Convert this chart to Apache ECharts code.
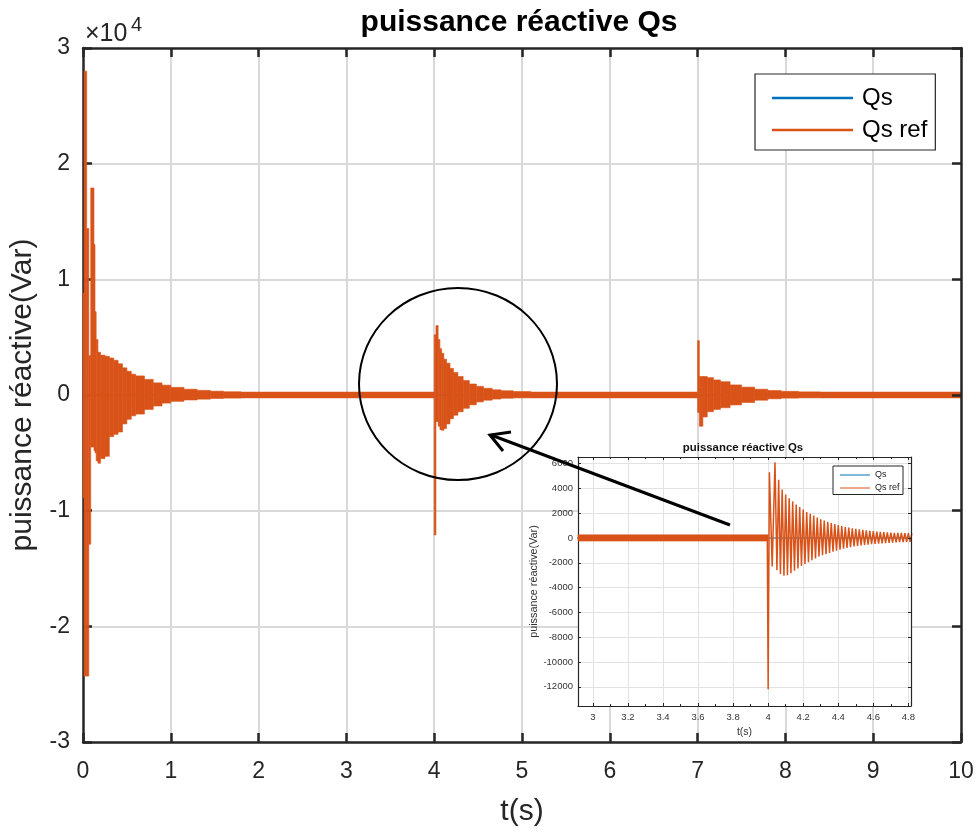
<!DOCTYPE html>
<html>
<head>
<meta charset="utf-8">
<script src="https://cdn.jsdelivr.net/npm/echarts@6/dist/echarts.min.js"></script>
<style>
html, body { margin: 0; padding: 0; background: #fff; }
#main { width: 980px; height: 832px; }
</style>
</head>
<body>
<div id="main"></div>
<script>
var FONT = '"Liberation Sans", Arial, Helvetica, sans-serif';
var BLUE = '#0072BD', ORANGE = '#D95319', INK = '#262626';

// Qs ref envelope (Var): segment i runs from segStart[i] to segStart[i+1]
var segStart = [0, 0.012, 0.042, 0.066, 0.088, 0.125, 0.137, 0.15, 0.17, 0.2, 0.25, 0.3, 0.35, 0.4, 0.45,
    0.5, 0.55, 0.6, 0.7, 0.8, 0.9, 1.0, 1.15, 1.3, 1.45, 1.6, 1.8,
    4.0, 4.02, 4.045, 4.065, 4.085, 4.11, 4.14, 4.18, 4.22, 4.27, 4.33, 4.4, 4.48, 4.56, 4.66, 4.76, 4.9, 5.1,
    7.0, 7.02, 7.06, 7.11, 7.18, 7.26, 7.37, 7.5, 7.65, 7.8, 7.95, 8.15, 8.4, 10];
var segHi = [8800, 28000, 14400, 3400, 17900, 13000, 7200, 4800, 3700, 3450, 3350, 3200, 3000, 2700, 2350,
    2050, 1800, 1650, 1350, 1050, 850, 660, 500, 400, 330, 280, 250,
    5200, 6000, 4800, 4000, 3600, 3100, 2750, 2300, 1950, 1600, 1250, 950, 750, 580, 450, 370, 300, 250,
    4700, 1600, 1600, 1500, 1300, 1150, 870, 680, 500, 390, 320, 270, 250, 250];
var segLo = [-8900, -24300, -24300, -12900, -4500, -4800, -5000, -5700, -5900, -5500, -5300, -3600, -3400, -3200, -2500,
    -2100, -1800, -1650, -1250, -950, -700, -550, -430, -360, -300, -270, -250,
    -12100, -2300, -2700, -3000, -3050, -2900, -2500, -2050, -1750, -1450, -1150, -850, -600, -450, -350, -280, -250, -250,
    -1500, -2700, -1900, -1450, -1250, -1100, -860, -650, -450, -330, -270, -250, -250, -250];

// Qs (flat at zero)
var qsT = [0, 10];
var qsV = [0, 0];

// inset: Qs ref oscillation peaks after the step at 4 s
var zoomT = [3.995, 4.000, 4.007, 4.023, 4.039, 4.050, 4.060, 4.070, 4.080, 4.090, 4.100, 4.110, 4.120, 4.130,
    4.140, 4.150, 4.160, 4.170, 4.180, 4.190, 4.200, 4.210, 4.220, 4.230, 4.240, 4.250, 4.260, 4.270, 4.280,
    4.290, 4.300, 4.310, 4.320, 4.330, 4.340, 4.350, 4.360, 4.370, 4.380, 4.390, 4.400, 4.410, 4.420, 4.430,
    4.440, 4.450, 4.460, 4.470, 4.480, 4.490, 4.500, 4.510, 4.520, 4.530, 4.540, 4.550, 4.560, 4.570, 4.580,
    4.590, 4.600, 4.610, 4.620, 4.630, 4.640, 4.650, 4.660, 4.670, 4.680, 4.690, 4.700, 4.710, 4.720, 4.730,
    4.740, 4.750, 4.760, 4.770, 4.780, 4.790, 4.800, 4.810, 4.820];
var zoomV = [0, -12200, 5300, -2300, 6100, -2600, 4700, -2900, 3900, -3050, 3500, -3000, 3200, -2850,
    2950, -2650, 2700, -2450, 2500, -2250, 2300, -2100, 2100, -1950, 1950, -1800, 1800, -1650, 1650,
    -1500, 1500, -1400, 1400, -1300, 1300, -1200, 1200, -1100, 1120, -1020, 1040, -940, 960, -870,
    890, -800, 830, -740, 780, -690, 730, -640, 690, -600, 650, -560, 610, -530, 580,
    -500, 550, -470, 520, -450, 500, -430, 480, -410, 460, -390, 440, -370, 420, -350,
    410, -340, 400, -330, 390, -320, 380, -310, 370];

var insetMin = 2.915, insetMax = 4.815;

var band = [];
for (var i = 0; i < segStart.length - 1; i++) {
    band.push([segStart[i], segStart[i + 1], segLo[i], segHi[i]]);
}
var insetBand = band.filter(function (d) { return d[0] < 4.0 && d[1] > insetMin; });
var qsData = qsT.map(function (t, i) { return [t, qsV[i]]; });
var zoomData = zoomT.map(function (t, i) { return [t, zoomV[i]]; });

function renderBand(params, api) {
    var cs = params.coordSys;
    var a = api.coord([api.value(0), api.value(3)]);
    var b = api.coord([api.value(1), api.value(2)]);
    var x0 = Math.max(a[0], cs.x), x1 = Math.min(b[0], cs.x + cs.width);
    if (x1 <= x0) return;
    return {
        type: 'rect',
        shape: { x: x0, y: a[1], width: Math.max(x1 - x0, 1), height: b[1] - a[1] },
        style: { fill: ORANGE, stroke: ORANGE, lineWidth: 0.6 }
    };
}

function frame(w) {
    return { show: true, onZero: false, lineStyle: { color: INK, width: w } };
}
function mainX(pos, extra) {
    return Object.assign({
        type: 'value', gridIndex: 0, position: pos, min: 0, max: 10, interval: 1, z: 3,
        axisLine: frame(2.5),
        axisTick: { show: true, inside: true, length: 9, lineStyle: { color: INK, width: 2.5 } },
        axisLabel: { show: false },
        splitLine: { show: false }
    }, extra || {});
}
function mainY(pos, extra) {
    return Object.assign({
        type: 'value', gridIndex: 0, position: pos, min: -30000, max: 30000, interval: 10000, z: 3,
        axisLine: frame(2.5),
        axisTick: { show: true, inside: true, length: 9, lineStyle: { color: INK, width: 2.5 } },
        axisLabel: { show: false },
        splitLine: { show: false }
    }, extra || {});
}
function insetX(pos, extra) {
    return Object.assign({
        type: 'value', gridIndex: 1, position: pos, min: insetMin, max: insetMax, splitNumber: 10, z: 9,
        axisLine: frame(1.2),
        axisTick: { show: true, inside: true, length: 3, lineStyle: { color: INK, width: 1 } },
        minorTick: { show: true, splitNumber: 2, length: 2, lineStyle: { color: INK, width: 1 } },
        axisLabel: { show: false },
        splitLine: { show: false }
    }, extra || {});
}
function insetY(pos, extra) {
    return Object.assign({
        type: 'value', gridIndex: 1, position: pos, min: -13550, max: 6530, splitNumber: 10, z: 9,
        axisLine: frame(1.2),
        axisTick: { show: true, inside: true, length: 3, lineStyle: { color: INK, width: 1 } },
        axisLabel: { show: false },
        splitLine: { show: false }
    }, extra || {});
}
var mainGridLine = { show: true, showMinLine: false, showMaxLine: false, lineStyle: { color: '#d9d9d9', width: 2 } };
var insetGridLine = { show: true, showMinLine: false, showMaxLine: false, lineStyle: { color: '#e2e2e2', width: 1 } };

var chart = echarts.init(document.getElementById('main'));
chart.setOption({
    animation: false,
    backgroundColor: '#fff',
    textStyle: { fontFamily: FONT },
    grid: [
        { left: 83, top: 48, right: 19, bottom: 90, show: false },
        { left: 578, top: 457, width: 333, height: 249, show: true, backgroundColor: '#fff',
          borderWidth: 0, z: 5 }
    ],
    xAxis: [
        mainX('bottom', {
            z: 0,
            axisLabel: { show: true, fontSize: 23, color: INK, margin: 18, fontFamily: FONT },
            splitLine: mainGridLine,
            name: 't(s)', nameLocation: 'middle', nameGap: 55,
            nameTextStyle: { fontSize: 30, color: INK, fontFamily: FONT }
        }),
        mainX('top'),
        insetX('bottom', {
            z: 6,
            axisLabel: { show: true, fontSize: 9.5, color: '#333', margin: 6.5, fontFamily: FONT,
                         showMinLabel: false, showMaxLabel: false },
            splitLine: insetGridLine,
            name: 't(s)', nameLocation: 'middle', nameGap: 21,
            nameTextStyle: { fontSize: 10.5, color: '#333', fontFamily: FONT }
        }),
        insetX('top')
    ],
    yAxis: [
        mainY('left', {
            z: 0,
            axisLabel: { show: true, fontSize: 23, color: INK, margin: 13, fontFamily: FONT,
                         formatter: function (v) { return String(v / 10000); } },
            splitLine: mainGridLine,
            name: 'puissance réactive(Var)', nameLocation: 'middle', nameGap: 45,
            nameTextStyle: { fontSize: 30, color: INK, fontFamily: FONT }
        }),
        mainY('right'),
        insetY('left', {
            z: 6,
            axisLabel: { show: true, fontSize: 9.5, color: '#333', margin: 5, fontFamily: FONT,
                         showMinLabel: false, showMaxLabel: false,
                         formatter: function (v) { return String(v); } },
            splitLine: insetGridLine,
            name: 'puissance réactive(Var)', nameLocation: 'middle', nameGap: 37,
            nameTextStyle: { fontSize: 10.8, color: '#333', fontFamily: FONT }
        }),
        insetY('right')
    ],
    legend: [
        {
            left: 755, top: 74, orient: 'vertical', selectedMode: false, z: 10,
            backgroundColor: '#fff', borderColor: INK, borderWidth: 1.2,
            padding: [12, 8, 8, 17], itemGap: 8, itemWidth: 81, itemHeight: 2.3,
            textStyle: { fontSize: 24, lineHeight: 24, color: '#000', fontFamily: FONT, padding: [0, 0, 0, 4] },
            data: [
                { name: 'Qs', icon: 'rect', itemStyle: { color: BLUE } },
                { name: 'Qs ref', icon: 'rect', itemStyle: { color: ORANGE } }
            ]
        },
        {
            left: 833, top: 466, orient: 'vertical', selectedMode: false, z: 12,
            backgroundColor: '#fff', borderColor: INK, borderWidth: 1,
            padding: [4.5, 3.5, 2, 7], itemGap: 4, itemWidth: 30, itemHeight: 1,
            textStyle: { fontSize: 9, lineHeight: 9, color: '#222', fontFamily: FONT },
            data: [
                { name: 'Qs', icon: 'rect', itemStyle: { color: BLUE } },
                { name: 'Qs ref', icon: 'rect', itemStyle: { color: ORANGE } }
            ]
        }
    ],
    series: [
        {
            name: 'Qs', type: 'line', xAxisIndex: 0, yAxisIndex: 0, data: qsData, z: 1,
            showSymbol: false, lineStyle: { color: BLUE, width: 1.5 }, itemStyle: { color: BLUE }
        },
        {
            name: 'Qs ref', type: 'custom', xAxisIndex: 0, yAxisIndex: 0, data: band, z: 2,
            encode: { x: [0, 1], y: [2, 3] }, renderItem: renderBand, itemStyle: { color: ORANGE }
        },
        {
            name: 'Qs', type: 'line', xAxisIndex: 2, yAxisIndex: 2, data: qsData, z: 7,
            showSymbol: false, lineStyle: { color: BLUE, width: 1 }, itemStyle: { color: BLUE }
        },
        {
            name: 'Qs ref', type: 'custom', xAxisIndex: 2, yAxisIndex: 2, data: insetBand, z: 8,
            encode: { x: [0, 1], y: [2, 3] }, renderItem: renderBand, itemStyle: { color: ORANGE }
        },
        {
            name: 'Qs ref', type: 'line', xAxisIndex: 2, yAxisIndex: 2, data: zoomData, z: 8,
            showSymbol: false, lineStyle: { color: ORANGE, width: 1.5 }, itemStyle: { color: ORANGE }
        }
    ],
    graphic: [
        { type: 'text', x: 519, y: 23, z: 50,
          style: { text: 'puissance réactive Qs', font: 'bold 30px ' + FONT, fill: '#000', align: 'center', verticalAlign: 'middle' } },
        { type: 'text', x: 743, y: 448, z: 50,
          style: { text: 'puissance réactive Qs', font: 'bold 11.4px ' + FONT, fill: '#111', align: 'center', verticalAlign: 'middle' } },
        { type: 'text', x: 85, y: 34, z: 50,
          style: { text: '×10', font: '25px ' + FONT, fill: INK, align: 'left', verticalAlign: 'middle' } },
        { type: 'text', x: 131, y: 25, z: 50,
          style: { text: '4', font: '20px ' + FONT, fill: INK, align: 'left', verticalAlign: 'middle' } },
        { type: 'ellipse', z: 50, shape: { cx: 458, cy: 384, rx: 99, ry: 96 },
          style: { fill: 'none', stroke: '#000', lineWidth: 2 } },
        { type: 'line', z: 50, shape: { x1: 730, y1: 525, x2: 491, y2: 435 },
          style: { stroke: '#000', lineWidth: 3 } },
        { type: 'polyline', z: 50, shape: { points: [[511, 432], [490, 435], [503, 451]] },
          style: { stroke: '#000', lineWidth: 3, fill: 'none' } }
    ]
});
</script>
</body>
</html>
